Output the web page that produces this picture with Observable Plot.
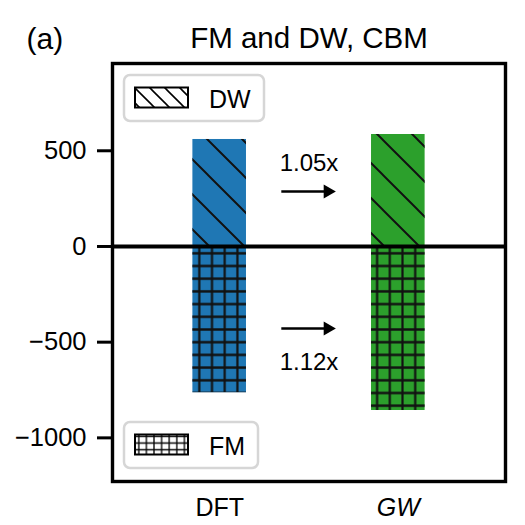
<!DOCTYPE html>
<html><head><meta charset="utf-8">
<script src="https://cdn.jsdelivr.net/npm/d3@7"></script>
<script src="https://cdn.jsdelivr.net/npm/@observablehq/plot@0.6"></script>
<style>body{margin:0;background:#fff} #chart{width:525px;height:525px}</style>
</head><body><div id="chart"></div>
<script>
// ---- data ----
const methods = ["DFT", "GW"];
const dwValues = [559, 585];
const fmValues = [-764, -857];
const ratioLabels = ["1.05x", "1.12x"];
const ratioY = [434, -606];
const arrowY = [287, -428];
const yTicks = [-1000, -500, 0, 500];
const legendLabels = ["DW", "FM"];
const titleText = "FM and DW, CBM";
const panelLabel = "(a)";

// ---- styling ----
const colors = ["#1f77b4", "#2ca02c"];
const barHalf = 0.15;
const FONT = "'Liberation Sans', Arial, Helvetica, sans-serif";
const W = 525, H = 525, mL = 112, mT = 63, mR = 20, mB = 44;

const bars = methods.map((m, i) => ({method: m, i, dw: dwValues[i], fm: fmValues[i]}));
const ratios = ratioLabels.map((t, i) => ({text: t, y: ratioY[i]}));
const arrows = arrowY.map(y => ({x1: 0.345, x2: 0.605, y}));

const NS = "http://www.w3.org/2000/svg";
function el(tag, attrs, parent) {
  const e = document.createElementNS(NS, tag);
  for (const k in attrs) e.setAttribute(k, attrs[k]);
  if (parent) parent.appendChild(e);
  return e;
}

function defsMark() {
  const g = el("g", {});
  const defs = el("defs", {}, g);
  let p = el("pattern", {id: "hatchDiag", patternUnits: "userSpaceOnUse", width: 35, height: 35, patternTransform: "translate(33,0)"}, defs);
  el("path", {d: "M0,0L35,35M-5,30L5,40M30,-5L40,5", stroke: "#111", "stroke-width": 2, fill: "none"}, p);
  p = el("pattern", {id: "hatchGrid", patternUnits: "userSpaceOnUse", width: 12.7, height: 12.7, patternTransform: "translate(2.45,5.65)"}, defs);
  el("path", {d: "M0,6.35H12.7M6.35,0V12.7", stroke: "#111", "stroke-width": 2.2, fill: "none"}, p);
  p = el("pattern", {id: "legDiag", patternUnits: "userSpaceOnUse", width: 15, height: 15, patternTransform: "translate(2,0)"}, defs);
  el("path", {d: "M0,0L15,15M-3,12L3,18M12,-3L18,3", stroke: "#000", "stroke-width": 1.6, fill: "none"}, p);
  p = el("pattern", {id: "legGrid", patternUnits: "userSpaceOnUse", width: 7.6, height: 6.7, patternTransform: "translate(135,433)"}, defs);
  el("path", {d: "M0,3.35H7.6M3.8,0V6.7", stroke: "#000", "stroke-width": 1.3, fill: "none"}, p);
  return g;
}

function legendMark() {
  const g = el("g", {});
  const items = [
    {label: legendLabels[0], pat: "legDiag", top: mT + 12, w: 140},
    {label: legendLabels[1], pat: "legGrid", top: H - mB - 12 - 47, w: 134}
  ];
  for (const it of items) {
    const x0 = mL + 12;
    el("rect", {x: x0, y: it.top, width: it.w, height: 46, rx: 6, ry: 6, fill: "white", "fill-opacity": 0.8, stroke: "#d6d6d6", "stroke-width": 2.5}, g);
    el("rect", {x: x0 + 11, y: it.top + 12.5, width: 53, height: 20, fill: "white"}, g);
    el("rect", {x: x0 + 11, y: it.top + 12.5, width: 53, height: 20, fill: `url(#${it.pat})`, stroke: "black", "stroke-width": 2}, g);
    const t = el("text", {x: x0 + 85, y: it.top + 24, "text-anchor": "start", "dominant-baseline": "central", "font-size": 25, fill: "black"}, g);
    t.textContent = it.label;
  }
  return g;
}

const plot = Plot.plot({
  width: W, height: H,
  marginLeft: mL, marginTop: mT, marginRight: mR, marginBottom: mB,
  style: {fontFamily: FONT, background: "white", color: "black", overflow: "visible"},
  x: {domain: [-0.6, 1.6], axis: null},
  y: {domain: [-1228, 956], axis: null},
  color: {domain: methods, range: colors},
  marks: [
    defsMark,
    Plot.rect(bars, {x1: d => d.i - barHalf, x2: d => d.i + barHalf, y1: 0, y2: "dw", fill: "method"}),
    Plot.rect(bars, {x1: d => d.i - barHalf, x2: d => d.i + barHalf, y1: 0, y2: "dw", fill: "url(#hatchDiag)"}),
    Plot.rect(bars, {x1: d => d.i - barHalf, x2: d => d.i + barHalf, y1: 0, y2: "fm", fill: "method"}),
    Plot.rect(bars, {x1: d => d.i - barHalf, x2: d => d.i + barHalf, y1: 0, y2: "fm", fill: "url(#hatchGrid)"}),
    Plot.ruleY([0], {strokeWidth: 4, stroke: "black"}),
    Plot.link(arrows, {x1: "x1", x2: "x2", y1: "y", y2: "y", strokeWidth: 2.5, stroke: "black"}),
    Plot.dot(arrows, {x: "x2", y: "y", symbol: "triangle", r: 5.2, fill: "black", stroke: "none", rotate: 90}),
    Plot.text(ratios, {x: 0.5, y: "y", text: "text", fontSize: 24, fill: "black"}),
    Plot.axisY({ticks: yTicks, tickSize: 15, tickPadding: 11, strokeWidth: 3, fontSize: 25.5, tickFormat: d3.format("d"), label: null}),
    Plot.axisX({ticks: [0, 1], tickFormat: i => methods[i], tickSize: 0, tickPadding: 17, fontSize: 25, label: null}),
    Plot.frame({strokeWidth: 3.4, stroke: "black"}),
    legendMark,
    Plot.text([titleText], {frameAnchor: "top", dy: -36, fontSize: 29.5, fill: "black"}),
    Plot.text([panelLabel], {frameAnchor: "top-left", dx: -86, dy: -36, textAnchor: "start", fontSize: 30, fill: "black"})
  ]
});

plot.querySelectorAll("text").forEach(t => {
  if (t.textContent === "GW") t.setAttribute("font-style", "italic");
});
document.getElementById("chart").appendChild(plot);
</script>
</body></html>
